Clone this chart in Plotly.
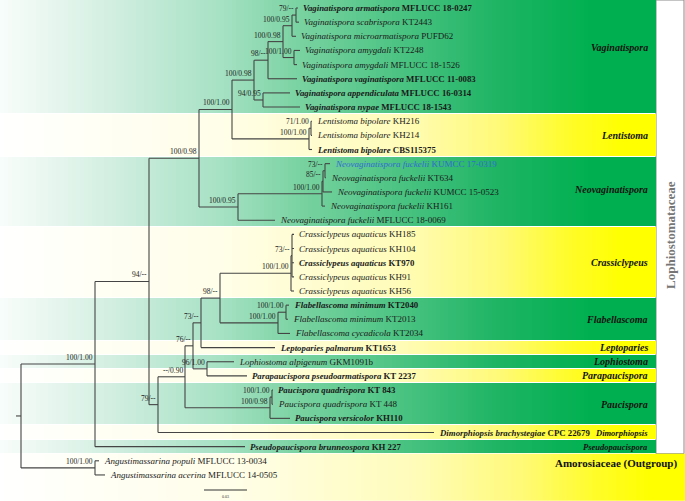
import numpy as np
import plotly.graph_objects as go

# ---- taxa (top to bottom), tip depth ----
species = [
    "Vaginatispora armatispora", "Vaginatispora scabrispora", "Vaginatispora microarmatispora",
    "Vaginatispora amygdali", "Vaginatispora amygdali", "Vaginatispora vaginatispora",
    "Vaginatispora appendiculata", "Vaginatispora nypae",
    "Lentistoma bipolare", "Lentistoma bipolare", "Lentistoma bipolare",
    "Neovaginatispora fuckelii", "Neovaginatispora fuckelii", "Neovaginatispora fuckelii",
    "Neovaginatispora fuckelii", "Neovaginatispora fuckelii",
    "Crassiclypeus aquaticus", "Crassiclypeus aquaticus", "Crassiclypeus aquaticus",
    "Crassiclypeus aquaticus", "Crassiclypeus aquaticus",
    "Flabellascoma minimum", "Flabellascoma minimum", "Flabellascoma cycadicola",
    "Leptoparies palmarum", "Lophiostoma alpigenum", "Parapaucispora pseudoarmatispora",
    "Paucispora quadrispora", "Paucispora quadrispora", "Paucispora versicolor",
    "Dimorphiopsis brachystegiae", "Pseudopaucispora brunneospora",
    "Angustimassarina populi", "Angustimassarina acerina",
]
strains = [
    "MFLUCC 18-0247", "KT2443", "PUFD62", "KT2248", "MFLUCC 18-1526", "MFLUCC 11-0083",
    "MFLUCC 16-0314", "MFLUCC 18-1543",
    "KH216", "KH214", "CBS115375",
    "KUMCC 17-0319", "KT634", "KUMCC 15-0523", "KH161", "MFLUCC 18-0069",
    "KH185", "KH104", "KT970", "KH91", "KH56",
    "KT2040", "KT2013", "KT2034",
    "KT1653", "GKM1091b", "KT 2237",
    "KT 843", "KT 448", "KH110",
    "CPC 22679", "KH 227",
    "MFLUCC 13-0034", "MFLUCC 14-0505",
]
bold = [1, 0, 0, 0, 0, 1, 1, 1,
        0, 0, 1,
        0, 0, 0, 0, 0,
        0, 0, 1, 0, 0,
        1, 0, 0,
        1, 0, 1,
        1, 0, 1,
        1, 1,
        0, 0]
highlight = ["KUMCC 17-0319"]
tip_x = [298, 299, 296, 300, 297, 297, 290, 300,
         312, 312, 312,
         330, 326, 332, 325, 275,
         294, 294, 294, 294, 294,
         289, 288, 290,
         275, 234, 247,
         273, 273, 290,
         434, 245,
         99, 105]

# ---- internal nodes: depth, children, support (ML/BI) ----
nodes = {
    "AS": (296, [0, 1], "79/--"),
    "ASM": (292, ["AS", 2], "100/0.95"),
    "AM": (294, [3, 4], "100/1.00"),
    "C": (283, ["ASM", "AM"], "100/0.98"),
    "D": (268, ["C", 5], "98/--"),
    "E": (263, [6, 7], "94/0.95"),
    "VAG": (254, ["D", "E"], "100/0.98"),
    "L1": (311, [8, 9], "71/1.00"),
    "L0": (309, ["L1", 10], "100/1.00"),
    "VL": (232, ["VAG", "L0"], "100/1.00"),
    "Na": (325, [11, 12], "73/--"),
    "Nb": (323, ["Na", 13], "85/--"),
    "Nc": (322, ["Nb", 14], "100/1.00"),
    "N0": (238, ["Nc", 15], "100/0.95"),
    "UP": (199, ["VL", "N0"], "100/0.98"),
    "C1": (292, [16, 17, 18, 19], "73/--"),
    "C0": (291, ["C1", 20], "100/1.00"),
    "F1": (286, [21, 22], "100/1.00"),
    "F0": (278, ["F1", 23], "100/1.00"),
    "D98": (220, ["C0", "F0"], "98/--"),
    "N73": (201, ["D98", 24], "73/--"),
    "N96": (207, [25, 26], "96/1.00"),
    "N76": (193, ["N73", "N96"], "76/--"),
    "P1": (272, [27, 28], "100/1.00"),
    "P0": (270, ["P1", 29], "100/0.98"),
    "N90": (185, ["N76", "P0"], "--/0.90"),
    "N79": (158, ["N90", 30], "79/--"),
    "N94": (149, ["UP", "N79"], "94/--"),
    "ING": (95, ["N94", 31], "100/1.00"),
    "OUT": (95, [32, 33], "100/1.00"),
    "ROOT": (21, ["ING", "OUT"], ""),
}
root_stub = 5

# ---- clade bands and names ----
band_names = ["Vaginatispora", "Lentistoma", "Neovaginatispora", "Crassiclypeus", "Flabellascoma",
              "Leptoparies", "Lophiostoma", "Parapaucispora", "Paucispora", "Dimorphiopsis",
              "Pseudopaucispora"]
band_first = [0, 8, 11, 16, 21, 24, 25, 26, 27, 30, 31]
band_last = [7, 10, 15, 20, 23, 24, 25, 26, 29, 30, 31]
band_green = [1, 0, 1, 0, 1, 0, 1, 0, 1, 0, 1]
band_label_row = [2.8, 9, 12.8, 18, 22, 24, 25, 26, 28, 30, 31]
band_label_size = [10, 10, 10, 10, 10, 10, 10, 10, 10, 8.5, 8.5]
outgroup_label = "Amorosiaceae (Outgroup)"
outgroup_label_row = 32.2
family_label = "Lophiostomataceae"
scale_value = 0.03
scale_len = 43

ROW_PX = 14.15
TOP_PX = 8
W, H = 685, 501
y_top = -TOP_PX / ROW_PX
y_bot = (H - TOP_PX) / ROW_PX
BAND_R = 656
SERIF = "Liberation Serif, Times New Roman, serif"


def nx(c):
    return tip_x[c] if isinstance(c, int) else nodes[c][0]


def ny(c):
    if isinstance(c, int):
        return c
    ch = nodes[c][1]
    return (ny(ch[0]) + ny(ch[-1])) / 2


fig = go.Figure()

# gradient bands
edges = [y_top] + [l + 0.5 for l in band_last]
xe = np.linspace(0, BAND_R, 165)
xc = (xe[:-1] + xe[1:]) / 2 / BAND_R
green_scale = [[0, "rgb(248,253,250)"], [0.15, "rgb(215,240,228)"], [0.34, "rgb(165,225,195)"],
               [0.46, "rgb(120,210,160)"], [0.61, "rgb(75,195,130)"], [0.76, "rgb(30,180,100)"],
               [0.9, "rgb(0,176,80)"], [1, "rgb(0,176,80)"]]
yellow_scale = [[0, "rgb(255,255,255)"], [0.34, "rgb(255,254,232)"], [0.61, "rgb(255,252,185)"],
                [0.76, "rgb(255,250,120)"], [0.87, "rgb(255,252,40)"], [0.95, "rgb(255,255,0)"],
                [1, "rgb(255,255,0)"]]
for want, cs in [(1, green_scale), (0, yellow_scale)]:
    z = [list(xc) if g == want else [np.nan] * len(xc) for g in band_green]
    fig.add_trace(go.Heatmap(x=xe, y=edges, z=z, colorscale=cs, zmin=0, zmax=1,
                             showscale=False, hoverinfo="skip", ygap=1))
xo = np.linspace(0, W, 170)
fig.add_trace(go.Heatmap(x=xo, y=[band_last[-1] + 0.5, y_bot],
                         z=[list((xo[:-1] + xo[1:]) / 2 / W)], colorscale=yellow_scale,
                         zmin=0, zmax=1, showscale=False, hoverinfo="skip"))

# tree branches
lx, ly = [], []
for name, (x, ch, sup) in nodes.items():
    ys = [ny(c) for c in ch]
    lx += [x, x, None]
    ly += [min(ys), max(ys), None]
    for c in ch:
        lx += [x, nx(c), None]
        ly += [ny(c), ny(c), None]
lx += [nodes["ROOT"][0] - root_stub, nodes["ROOT"][0], None]
ly += [ny("ROOT"), ny("ROOT"), None]
fig.add_trace(go.Scatter(x=lx, y=ly, mode="lines", line=dict(color="#444", width=1.1),
                         hoverinfo="skip", showlegend=False))

# scale bar
sb_y = (490 - TOP_PX) / ROW_PX
fig.add_trace(go.Scatter(x=[204, 204 + scale_len], y=[sb_y, sb_y], mode="lines",
                         line=dict(color="#333", width=1), hoverinfo="skip", showlegend=False))

ann = []
for i in range(len(species)):
    t = f"<i>{species[i]}</i> {strains[i]}"
    if bold[i]:
        t = f"<b>{t}</b>"
    col = "#2f6bd0" if strains[i] in highlight else "#1a1a1a"
    ann.append(dict(x=tip_x[i] + 2.5, y=i, text=t, xanchor="left", yanchor="middle", showarrow=False,
                    font=dict(family=SERIF, size=8.8 if bold[i] else 9, color=col)))
for name, (x, ch, sup) in nodes.items():
    if sup:
        ann.append(dict(x=x - 0.5, y=ny(name), text=sup, xanchor="right", yanchor="bottom",
                        showarrow=False, font=dict(family=SERIF, size=7.5, color="#222")))
for lab, r, s in zip(band_names, band_label_row, band_label_size):
    ann.append(dict(x=650, y=r, text=f"<b><i>{lab}</i></b>", xanchor="right", yanchor="middle",
                    showarrow=False, font=dict(family=SERIF, size=s, color="#111")))
ann.append(dict(x=679, y=outgroup_label_row, text=f"<b>{outgroup_label}</b>", xanchor="right",
                yanchor="middle", showarrow=False, font=dict(family=SERIF, size=11, color="#111")))
ann.append(dict(x=670, y=(235 - TOP_PX) / ROW_PX, text=f"<b>{family_label}</b>", textangle=-90,
                showarrow=False, font=dict(family=SERIF, size=13, color="#767676")))
ann.append(dict(x=204 + scale_len / 2, y=(496 - TOP_PX) / ROW_PX, text=str(scale_value), showarrow=False,
                font=dict(family=SERIF, size=4, color="#333")))

shapes = [
    dict(type="rect", x0=BAND_R, x1=W - 1, y0=y_top, y1=band_last[-1] + 0.5,
         line=dict(color="#8a8a8a", width=1), fillcolor="white", layer="below"),
    dict(type="line", x0=103, x1=103, y0=y_top, y1=band_last[-1] + 0.5,
         line=dict(color="rgba(255,255,255,0.6)", width=1), layer="below"),
]

fig.update_layout(
    width=W, height=H, margin=dict(l=0, r=0, t=0, b=0),
    paper_bgcolor="white", plot_bgcolor="white", showlegend=False,
    xaxis=dict(range=[0, W], visible=False, fixedrange=True),
    yaxis=dict(range=[y_bot, y_top], visible=False, fixedrange=True),
    annotations=ann, shapes=shapes,
)
fig.write_html("out.html", config={"displayModeBar": False},
               post_script="document.body.style.margin='0';")
